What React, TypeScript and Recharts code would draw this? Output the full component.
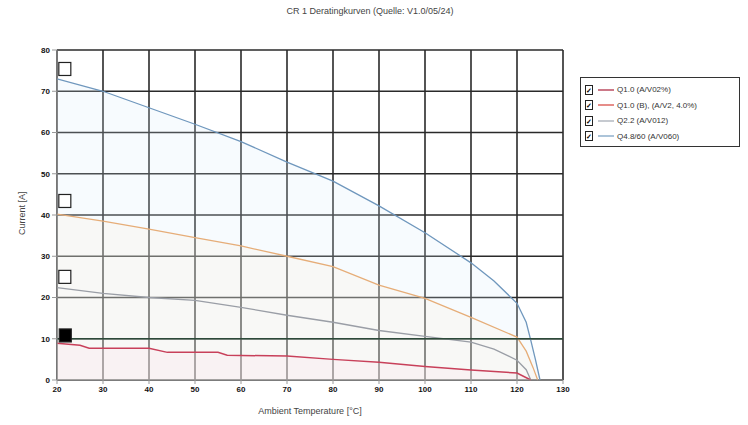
import React from "react";
import {
  ComposedChart,
  Area,
  XAxis,
  YAxis,
  CartesianGrid,
  ReferenceLine,
  Scatter,
} from "recharts";

const chartTitle = "CR 1 Deratingkurven (Quelle: V1.0/05/24)";
const xLabel = "Ambient Temperature [°C]";
const yLabel = "Current [A]";

const xTicks = [20, 30, 40, 50, 60, 70, 80, 90, 100, 110, 120, 130];
const yTicks = [0, 10, 20, 30, 40, 50, 60, 70, 80];

const blueTemps = [20, 30, 40, 50, 60, 70, 80, 90, 100, 110, 115, 120, 122, 123, 124, 125];
const blueCurrent = [73, 70, 66, 62, 57.8, 52.8, 48.2, 42.2, 35.7, 28.4, 24, 18.6, 14, 9.6, 5, 0];

const orangeTemps = [20, 30, 40, 50, 60, 70, 80, 90, 100, 110, 120, 122, 123.5, 124.5];
const orangeCurrent = [40.2, 38.5, 36.6, 34.5, 32.5, 30, 27.5, 23, 19.8, 15.2, 10.4, 7, 3, 0];

const grayTemps = [20, 30, 40, 50, 60, 70, 80, 90, 100, 110, 115, 120, 122, 123];
const grayCurrent = [22.4, 21, 20, 19.3, 17.6, 15.7, 14, 12, 10.6, 9.2, 7.5, 4.8, 2.5, 0];

const redTemps = [20, 25, 27, 40, 44, 55, 57, 70, 80, 90, 100, 110, 120, 123];
const redCurrent = [8.9, 8.4, 7.7, 7.7, 6.7, 6.7, 6.0, 5.8, 5.0, 4.3, 3.3, 2.4, 1.7, 0];

const markerTemps = [21.7, 21.7, 21.7, 21.8];
const markerCurrent = [75.4, 43.4, 25, 10.8];
const markerFilled = [false, false, false, true];

const legendLabels = [
  "Q1.0 (A/V02%)",
  "Q1.0 (B), (A/V2, 4.0%)",
  "Q2.2 (A/V012)",
  "Q4.8/60 (A/V060)",
];
const legendColors = ["#b03048", "#d8504a", "#a8aeb6", "#7fa4c4"];

const toSeries = (t: number[], v: number[]) => t.map((x, i) => ({ t: x, i: v[i] }));
const blueData = toSeries(blueTemps, blueCurrent);
const orangeData = toSeries(orangeTemps, orangeCurrent);
const grayData = toSeries(grayTemps, grayCurrent);
const redData = toSeries(redTemps, redCurrent);
const markerData = markerTemps.map((x, k) => ({ t: x, i: markerCurrent[k], filled: markerFilled[k] }));

const font = "'Liberation Sans', Arial, sans-serif";

const MarkerShape = (props: any) => {
  const { cx, cy, payload } = props;
  if (cx == null || cy == null) return null;
  const filled = payload && payload.filled;
  return (
    <rect
      x={cx - 6}
      y={cy - 6.5}
      width={12}
      height={13}
      fill={filled ? "#000" : "#fff"}
      stroke="#222"
      strokeWidth={1.2}
    />
  );
};

export default function App() {
  return (
    <div style={{ position: "relative", width: 748, height: 425, fontFamily: font, background: "#fff" }}>
      <style>{`body{margin:0}`}</style>
      <div
        style={{
          position: "absolute",
          top: 6,
          left: 0,
          width: 740,
          textAlign: "center",
          fontSize: 9,
          color: "#444",
        }}
      >
        {chartTitle}
      </div>
      <ComposedChart
        width={748}
        height={425}
        margin={{ top: 50, right: 185, bottom: 15, left: 17 }}
      >
        <CartesianGrid stroke="#2a2a2a" strokeWidth={1.6} />
        <XAxis
          dataKey="t"
          type="number"
          domain={[20, 130]}
          ticks={xTicks}
          allowDataOverflow
          height={30}
          tick={{ fontSize: 8, fill: "#111", fontFamily: font, fontWeight: 700 }}
          tickSize={4}
          stroke="#999"
          label={{ value: xLabel, position: "insideBottom", offset: -4, fontSize: 9, fill: "#444", fontFamily: font }}
        />
        <YAxis
          type="number"
          domain={[0, 80]}
          ticks={yTicks}
          width={40}
          tick={{ fontSize: 8, fill: "#111", fontFamily: font, fontWeight: 700 }}
          tickSize={5}
          stroke="#999"
          label={{ value: yLabel, angle: -90, position: "insideLeft", offset: 5, dy: 20, fontSize: 9, fill: "#444", fontFamily: font }}
        />
        <Area
          data={blueData}
          dataKey="i"
          type="linear"
          stroke="#6f97bd"
          strokeWidth={1.3}
          fill="#d6eaf8"
          fillOpacity={0.2}
          isAnimationActive={false}
          dot={false}
        />
        <Area
          data={orangeData}
          dataKey="i"
          type="linear"
          stroke="#e6ad78"
          strokeWidth={1.3}
          fill="#fdf0d8"
          fillOpacity={0.2}
          isAnimationActive={false}
          dot={false}
        />
        <Area
          data={grayData}
          dataKey="i"
          type="linear"
          stroke="#9a9ea6"
          strokeWidth={1.3}
          fill="none"
          isAnimationActive={false}
          dot={false}
        />
        <Area
          data={redData}
          dataKey="i"
          type="linear"
          stroke="#c8405a"
          strokeWidth={1.5}
          fill="#fde4ea"
          fillOpacity={0.3}
          isAnimationActive={false}
          dot={false}
        />
        <ReferenceLine y={10} stroke="#2d4a3a" strokeWidth={1.6} />
        <Scatter
          data={markerData}
          dataKey="i"
          shape={<MarkerShape />}
          isAnimationActive={false}
        />
      </ComposedChart>
      <div
        style={{
          position: "absolute",
          left: 580,
          top: 77,
          width: 160,
          height: 70,
          border: "1.5px solid #333",
          boxSizing: "border-box",
          background: "#fff",
          padding: "4px 0 0 4px",
        }}
      >
        {legendLabels.map((lab, k) => (
          <div key={k} style={{ display: "flex", alignItems: "center", height: 15.5 }}>
            <div
              style={{
                width: 8,
                height: 10,
                border: "1.2px solid #222",
                fontSize: 7,
                lineHeight: "9px",
                textAlign: "center",
                fontWeight: 700,
                boxSizing: "border-box",
              }}
            >
              ✓
            </div>
            <svg width={16} height={6} style={{ marginLeft: 5 }}>
              <line x1={0} y1={3} x2={16} y2={3} stroke={legendColors[k]} strokeWidth={1.3} />
            </svg>
            <span style={{ fontSize: 8, color: "#333", marginLeft: 3, whiteSpace: "nowrap" }}>{lab}</span>
          </div>
        ))}
      </div>
    </div>
  );
}
